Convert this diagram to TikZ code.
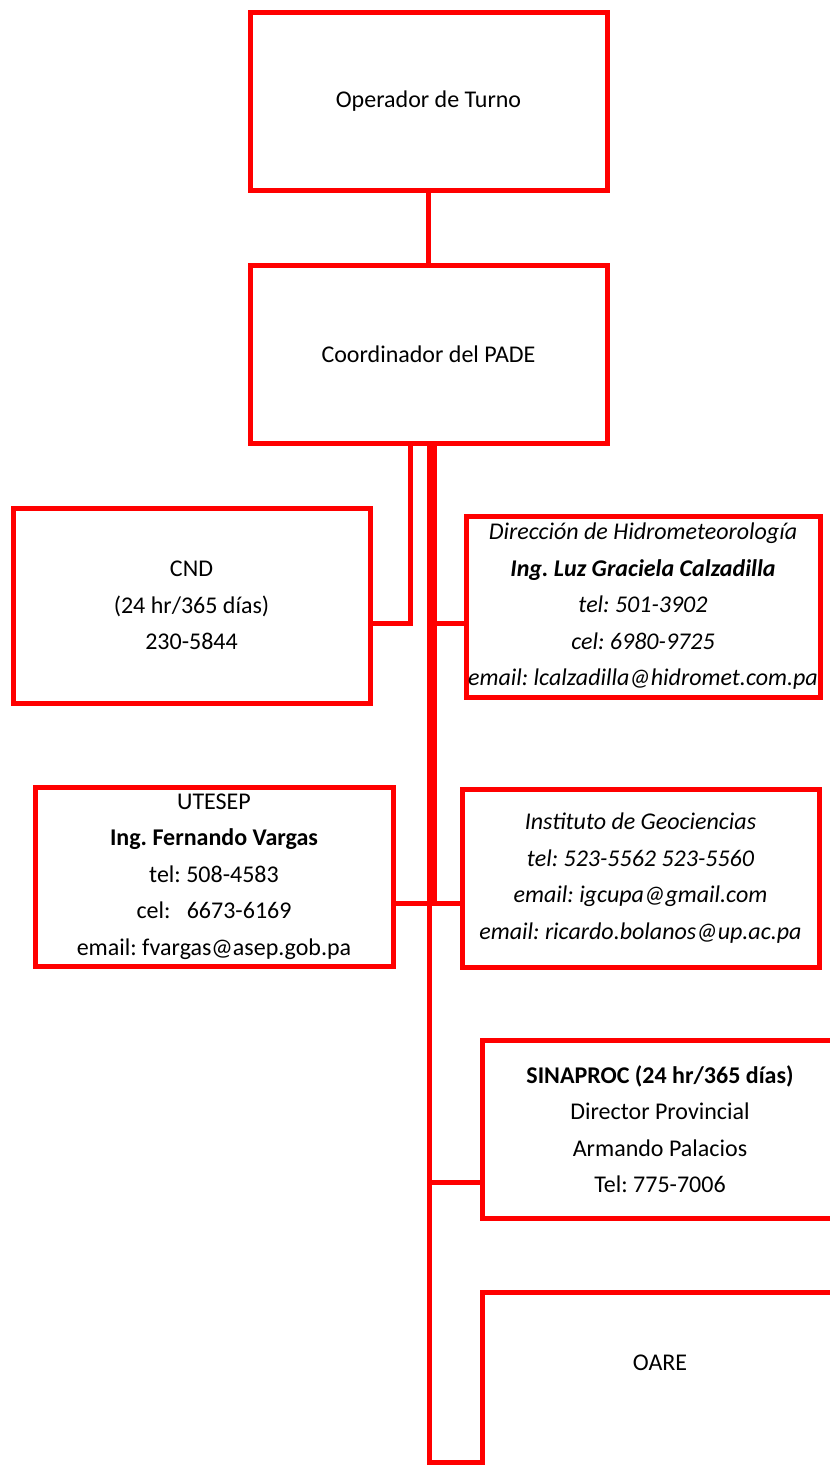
\documentclass[tikz,border=0pt]{standalone}
\usepackage{fontspec}
\setmainfont{Carlito}
\frenchspacing
\begin{document}
\begin{tikzpicture}[x=1pt,y=-1pt,
  orgbox/.style={draw=red, line width=5pt, rectangle, inner sep=0pt, fill=white,
    align=center, font=\fontsize{24}{36.5}\selectfont},
  link/.style={draw=red, line width=5pt}]
\useasboundingbox (0,0) rectangle (830,1465);
\fill[white] (0,0) rectangle (830,1465);
\clip (0,0) rectangle (830,1465);

\coordinate (tx) at (429,0);
\coordinate (tA) at (434,903);
\coordinate (cndj) at (410,623);
\coordinate (dj) at (431,623);
\coordinate (uj) at (431,903);
\coordinate (sj) at (429,1182);

\node[orgbox, minimum width=357, minimum height=178] (op) at (428.5,101) {Operador de Turno};
\node[orgbox, minimum width=357, minimum height=178] (coord) at (428.5,354) {Coordinador del PADE};
\node[orgbox, minimum width=357, minimum height=195] (cnd) at (191.5,605.5) {CND\\(24 hr/365 días)\\230-5844};
\node[orgbox, minimum width=354, minimum height=181] (dir) at (643,606.5)
  {\itshape Dirección de Hidrometeorología\\\bfseries\itshape Ing. Luz Graciela Calzadilla\\\itshape tel: 501-3902\\\itshape cel: 6980-9725\\\itshape email: lcalzadilla@hidromet.com.pa};
\node[orgbox, minimum width=358, minimum height=179] (ute) at (214,876.5)
  {UTESEP\\\textbf{Ing. Fernando Vargas}\\tel: 508-4583\\cel:\ \ \ 6673-6169\\email: fvargas@asep.gob.pa};
\node[orgbox, minimum width=357, minimum height=178] (inst) at (640.5,878)
  {\itshape Instituto de Geociencias\\\itshape tel: 523-5562 523-5560\\\itshape email: igcupa@gmail.com\\\itshape email: ricardo.bolanos@up.ac.pa};
\node[orgbox, minimum width=356, minimum height=178] (sina) at (660,1129)
  {\textbf{SINAPROC (24 hr/365 días)}\\Director Provincial\\Armando Palacios\\Tel: 775-7006};
\node[orgbox, minimum width=356, minimum height=340] (oare) at (660,1462) {};
\node[font=\fontsize{24}{36.5}\selectfont, inner sep=0pt] (oaretext) at (660,1363) {OARE};

\draw[link] (op.south) -- (coord.north);
\draw[link] (coord.south -| cndj) |- (cnd.east |- cndj);
\draw[link] (coord.south -| tA) -- (tA);
\draw[link] (coord.south -| tx) |- (oare.west);
\draw[link] (dj) -- (dir.west |- dj);
\draw[link] (ute.east |- uj) -- (inst.west |- uj);
\draw[link] (sj) -- (sina.west |- sj);
\end{tikzpicture}
\end{document}
